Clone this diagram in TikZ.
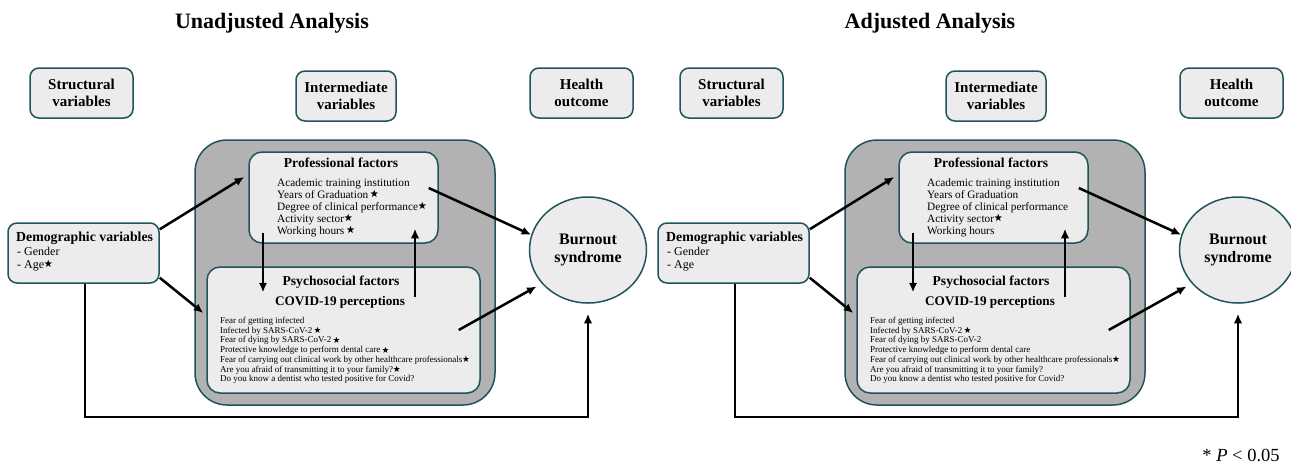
\documentclass[tikz,border=0pt]{standalone}
\usepackage{amssymb}
\usepackage{fontspec}
\setmainfont{Liberation Serif}
\usetikzlibrary{arrows.meta,shapes.geometric}
\definecolor{bordc}{RGB}{30,84,90}
\definecolor{boxc}{RGB}{236,236,236}
\definecolor{grayc}{RGB}{178,178,178}
\newcommand\stt{\,\raisebox{0.25ex}{\fontsize{9}{9}\selectfont$\bigstar$}}
\newcommand\sts{\raisebox{0.35ex}{\fontsize{9}{9}\selectfont$\bigstar$}}
\newcommand\stp{\,\raisebox{0.15ex}{\fontsize{7.5}{7.5}\selectfont$\bigstar$}}
\newcommand\stq{\raisebox{0.15ex}{\fontsize{7.5}{7.5}\selectfont$\bigstar$}}
\tikzset{
  hbox/.style={draw=bordc, line width=1.5pt, fill=boxc, rounded corners=9pt, align=center,
    inner sep=0pt, font=\fontsize{15}{17}\selectfont\bfseries},
  inbox/.style={draw=bordc, line width=1.5pt, fill=boxc, rounded corners=13pt, inner sep=0pt},
  grpbox/.style={draw=bordc, line width=1.5pt, fill=grayc, rounded corners=32pt, inner sep=0pt},
  burnbox/.style={ellipse, draw=bordc, line width=1.5pt, fill=boxc, inner sep=0pt, align=center,
    font=\fontsize{16}{17.5}\selectfont\bfseries},
  titletext/.style={font=\fontsize{22}{24}\selectfont\bfseries, inner sep=0pt},
  subtitle/.style={font=\fontsize{13.6}{14}\selectfont\bfseries, inner sep=0pt},
  covidtitle/.style={font=\fontsize{13.2}{16}\selectfont\bfseries, inner sep=0pt},
  proftext/.style={font=\fontsize{11.3}{12}\selectfont, align=left, inner sep=0pt, anchor=north west},
  psytext/.style={font=\fontsize{9}{9.7}\selectfont, align=left, inner sep=0pt, anchor=north west},
  demotitle/.style={font=\fontsize{13.8}{16}\selectfont\bfseries, inner sep=0pt, anchor=west},
  demotext/.style={font=\fontsize{12}{12.5}\selectfont, align=left, inner sep=0pt, anchor=north west},
  arr/.style={draw=black, line width=2.5pt, -{Latex[length=9.5pt,width=8.5pt]}},
}
% #1 suffix, #2 age line, #3 professional items, #4 psychosocial items
\newcommand\mypanel[4]{%
  \node[hbox, minimum width=103pt, minimum height=50pt] (struct#1) at (81.5,93) {Structural\\variables};
  \node[hbox, minimum width=100pt, minimum height=50pt] (inter#1) at (346,96) {Intermediate\\variables};
  \node[hbox, minimum width=103pt, minimum height=50pt] (health#1) at (581.5,93) {Health\\outcome};
  \node[grpbox, minimum width=300pt, minimum height=265pt] (grp#1) at (345,272.5) {};
  \node[inbox, minimum width=189pt, minimum height=91pt] (prof#1) at (343.5,197.5) {};
  \node[subtitle] (proftitle#1) at (341,163) {Professional factors};
  \node[proftext] (profitems#1) at (277,178) {#3};
  \node[inbox, minimum width=273pt, minimum height=126pt] (psy#1) at (343.5,330) {};
  \node[subtitle] (psytitle#1) at (341,282) {Psychosocial factors};
  \node[covidtitle] (covid#1) at (340,302) {COVID-19 perceptions};
  \node[psytext] (psyitems#1) at (220,317) {#4};
  \node[hbox, minimum width=151pt, minimum height=60pt] (demo#1) at (83.5,253) {};
  \node[demotitle] (demotitle#1) at (16,238) {Demographic variables};
  \node[demotext] (demoitems#1) at (17,247) {- Gender\\ #2};
  \node[burnbox, minimum width=117pt, minimum height=106pt] (burn#1) at (588,250) {Burnout\\syndrome};
  \draw[arr] ([yshift=-7pt]demo#1.north east) -- ([xshift=-4pt,yshift=20.5pt]prof#1.west);
  \draw[arr] ([yshift=6pt]demo#1.south east) -- ([xshift=-3pt,yshift=17pt]psy#1.west);
  \draw[arr] ([xshift=-80.5pt,yshift=11pt]prof#1.south) -- ([xshift=-80.5pt,yshift=-26pt]psy#1.north);
  \draw[arr] ([xshift=71.5pt,yshift=-31pt]psy#1.north) -- ([xshift=71.5pt,yshift=15pt]prof#1.south);
  \draw[arr] ([xshift=-10pt,yshift=9.5pt]prof#1.east) -- (burn#1.165);
  \draw[arr] ([xshift=-22pt]psy#1.east) -- ([xshift=-8pt]burn#1.220);
  \draw[arr] ([xshift=1.5pt]demo#1.south) |- ([yshift=-113pt]burn#1.south) -- ([yshift=-10pt]burn#1.south);
}
\begin{document}
\begin{tikzpicture}[x=1pt,y=-1pt]
  \useasboundingbox (0,0) rectangle (1291,464);
  \node[titletext] (title1) at (272,23) {Unadjusted Analysis};
  \node[titletext] (title2) at (930,23) {Adjusted Analysis};
  \mypanel{L}{- Age\sts}%
    {Academic training institution\\Years of Graduation\stt\\Degree of clinical performance\sts\\Activity sector\sts\\Working hours\stt}%
    {Fear of getting infected\\Infected by SARS-CoV-2\stp\\Fear of dying by SARS-CoV-2\stp\\Protective knowledge to perform dental care\stp\\Fear of carrying out clinical work by other healthcare professionals\stq\\Are you afraid of transmitting it to your family?\stq\\Do you know a dentist who tested positive for Covid?}
  \begin{scope}[xshift=650pt]
  \mypanel{R}{- Age}%
    {Academic training institution\\Years of Graduation\\Degree of clinical performance\\Activity sector\sts\\Working hours}%
    {Fear of getting infected\\Infected by SARS-CoV-2\stp\\Fear of dying by SARS-CoV-2\\Protective knowledge to perform dental care\\Fear of carrying out clinical work by other healthcare professionals\stq\\Are you afraid of transmitting it to your family?\\Do you know a dentist who tested positive for Covid?}
  \end{scope}
  \node[font=\fontsize{18.5}{20}\selectfont, inner sep=0pt] (pnote) at (1241,455) {* \textit{P} < 0.05};
\end{tikzpicture}
\end{document}
